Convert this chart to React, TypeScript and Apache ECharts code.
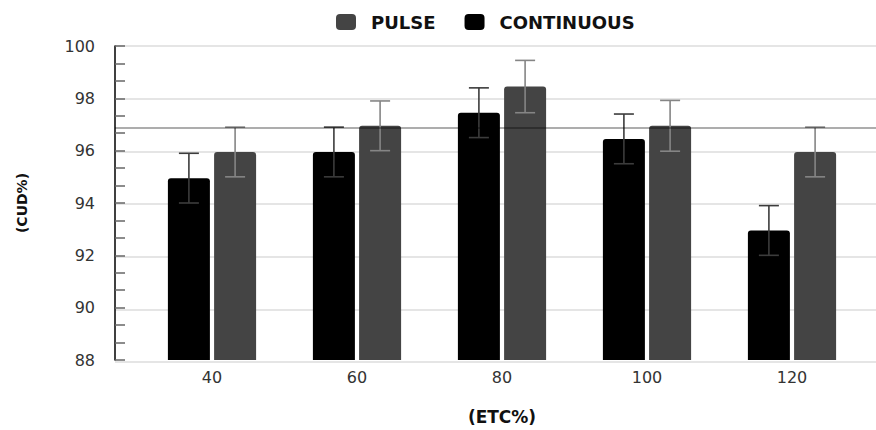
import React, { useEffect, useRef } from "react";
import * as echarts from "echarts";

const categories = ["40", "60", "80", "100", "120"];
const continuous = [94.95, 95.95, 97.45, 96.45, 92.95];
const continuousErr = [0.95, 0.95, 0.95, 0.95, 0.95];
const pulse = [95.95, 96.95, 98.45, 96.95, 95.95];
const pulseErr = [0.95, 0.95, 1.0, 0.97, 0.95];
const refLine = 96.9;
const yMin = 88;
const yMax = 100;
const yInterval = 2;

const FONT = "DejaVu Sans";

function errorData(vals: number[], errs: number[]) {
  return vals.map((v, i) => [i, v - errs[i], v + errs[i]]);
}

function makeErrorRender(offset: number, color: string) {
  return (params: any, api: any) => {
    const idx = api.value(0);
    const lo = api.coord([idx, api.value(1)]);
    const hi = api.coord([idx, api.value(2)]);
    const x = lo[0] + offset;
    const cap = 10;
    const style = { stroke: color, lineWidth: 1.6 };
    return {
      type: "group",
      children: [
        { type: "line", shape: { x1: x, y1: hi[1], x2: x, y2: lo[1] }, style },
        { type: "line", shape: { x1: x - cap, y1: hi[1], x2: x + cap, y2: hi[1] }, style },
        { type: "line", shape: { x1: x - cap, y1: lo[1], x2: x + cap, y2: lo[1] }, style },
      ],
    };
  };
}

export default function App() {
  const ref = useRef<HTMLDivElement>(null);
  useEffect(() => {
    if (!ref.current) return;
    const chart = echarts.init(ref.current, null, { renderer: "svg" });
    const top = 46;
    const bottom = 68;
    const barWidth = 42;
    const gapPx = 4.2;
    const off = (barWidth + gapPx) / 2;
    chart.setOption({
      animation: false,
      backgroundColor: "#fff",
      textStyle: { fontFamily: FONT },
      legend: {
        left: 331,
        top: 8,
        itemWidth: 20,
        itemHeight: 16,
        itemGap: 29,
        icon: "roundRect",
        data: ["PULSE", "CONTINUOUS"],
        textStyle: {
          fontFamily: FONT,
          fontWeight: "bold",
          fontSize: 18,
          color: "#111",
          padding: [0, 0, 0, 10],
        },
      },
      grid: [
        { left: 139.5, right: 11.5, top, bottom },
        { left: 115, right: 0, top, bottom },
      ],
      xAxis: [
        {
          type: "category",
          gridIndex: 0,
          data: categories,
          axisLine: { show: false },
          axisTick: { show: false },
          axisLabel: { fontFamily: FONT, fontSize: 16, color: "#333", margin: 9 },
          name: "(ETC%)",
          nameLocation: "middle",
          nameGap: 48,
          nameTextStyle: { fontFamily: FONT, fontWeight: "bold", fontSize: 17, color: "#111" },
        },
        { type: "value", gridIndex: 1, min: 0, max: 1, show: false },
      ],
      yAxis: [
        {
          type: "value",
          gridIndex: 0,
          min: yMin,
          max: yMax,
          interval: yInterval,
          offset: 24.5,
          axisLine: { show: true, lineStyle: { color: "#000", width: 1.5 } },
          axisTick: { show: true, inside: true, length: 10, lineStyle: { color: "#666", width: 1.5 } },
          minorTick: { show: true, splitNumber: 3, length: 10, lineStyle: { color: "#666", width: 1.5 } },
          axisLabel: { fontFamily: FONT, fontSize: 16, color: "#333", margin: 20 },
          splitLine: { show: false },
          name: "(CUD%)",
          nameLocation: "middle",
          nameRotate: 90,
          nameGap: 86,
          nameTextStyle: { fontFamily: FONT, fontWeight: "bold", fontSize: 14, color: "#111" },
        },
        {
          type: "value",
          gridIndex: 0,
          min: yMin,
          max: yMax,
          interval: yInterval,
          offset: 24.5,
          axisLine: { show: false },
          axisTick: { show: true, inside: false, length: 10, lineStyle: { color: "#888", width: 1.5 } },
          axisLabel: { show: false },
          splitLine: { show: false },
        },
        {
          type: "value",
          gridIndex: 1,
          min: yMin,
          max: yMax,
          interval: yInterval,
          axisLine: { show: false },
          axisTick: { show: false },
          axisLabel: { show: false },
          splitLine: { show: true, lineStyle: { color: "#dcdcdc", width: 1.5 } },
        },
      ],
      series: [
        {
          name: "CONTINUOUS",
          type: "bar",
          xAxisIndex: 0,
          yAxisIndex: 0,
          data: continuous,
          barWidth,
          barGap: "10%",
          itemStyle: { color: "#000", borderRadius: [3, 3, 0, 0] },
          z: 2,
        },
        {
          name: "PULSE",
          type: "bar",
          xAxisIndex: 0,
          yAxisIndex: 0,
          data: pulse,
          barWidth,
          barGap: "10%",
          itemStyle: { color: "#444", borderRadius: [3, 3, 0, 0] },
          z: 2,
        },
        {
          type: "custom",
          xAxisIndex: 0,
          yAxisIndex: 0,
          data: errorData(continuous, continuousErr),
          renderItem: makeErrorRender(-off, "#3c3c3c"),
          z: 4,
          silent: true,
        },
        {
          type: "custom",
          xAxisIndex: 0,
          yAxisIndex: 0,
          data: errorData(pulse, pulseErr),
          renderItem: makeErrorRender(off, "#858585"),
          z: 4,
          silent: true,
        },
        {
          type: "line",
          xAxisIndex: 1,
          yAxisIndex: 2,
          data: [],
          z: 5,
          silent: true,
          markLine: {
            silent: true,
            symbol: "none",
            label: { show: false },
            lineStyle: { color: "rgba(0,0,0,0.32)", width: 2, type: "solid" },
            data: [{ yAxis: refLine }],
          },
        },
      ],
    });
    return () => chart.dispose();
  }, []);
  return (
    <div
      ref={ref}
      style={{ position: "absolute", left: 0, top: 0, width: 876, height: 430 }}
    />
  );
}
